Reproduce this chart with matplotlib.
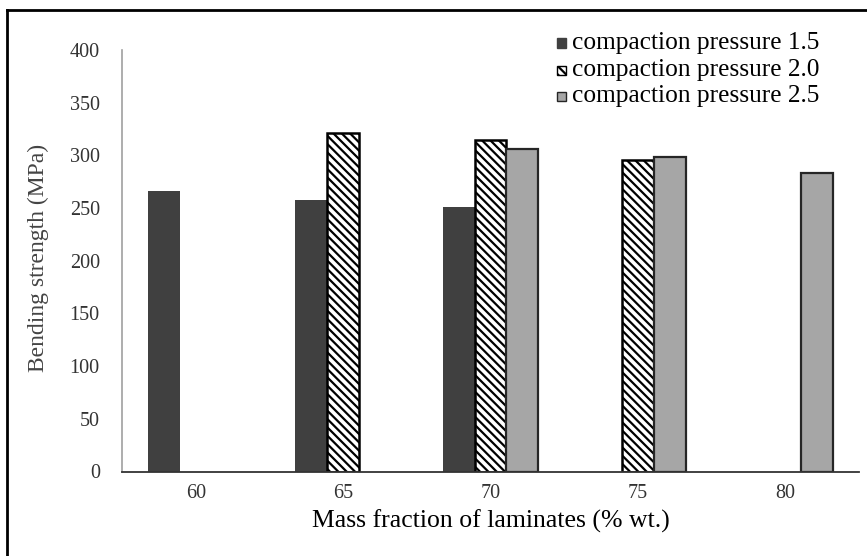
import matplotlib
matplotlib.use("Agg")
import matplotlib.pyplot as plt
import numpy as np
from matplotlib.patches import Rectangle
from matplotlib.lines import Line2D

categories = ["60", "65", "70", "75", "80"]
series_names = ["compaction pressure 1.5",
                "compaction pressure 2.0",
                "compaction pressure 2.5"]
p15 = [266, 258, 251, 0, 0]
p20 = [0, 321, 315, 296, 0]
p25 = [0, 0, 306, 298, 283]
yticks = [0, 50, 100, 150, 200, 250, 300, 350, 400]

W, H = 867, 556
plt.rcParams['font.family'] = ['Liberation Serif', 'DejaVu Serif']
plt.rcParams['hatch.linewidth'] = 1.6

fig = plt.figure(figsize=(W / 100, H / 100), dpi=100)
ax = fig.add_axes([122 / W, 1 - 471.5 / H, (859 - 122) / W, (471.5 - 50) / H])

x = np.arange(len(categories))
bw = 0.217
styles = [dict(color="#404040", edgecolor="none", hatch=None),
          dict(color="white", edgecolor="black", hatch="\\\\\\\\", linewidth=1.8),
          dict(color="#a6a6a6", edgecolor="#262626", hatch=None, linewidth=1.6)]
for i, vals in enumerate([p15, p20, p25]):
    v = np.array(vals, dtype=float)
    m = v > 0
    st = styles[i]
    ax.bar(x[m] + (i - 1) * bw, v[m], bw, color=st["color"], edgecolor=st["edgecolor"],
           hatch=st["hatch"], linewidth=st.get("linewidth", 0))

ax.set_xlim(-0.5, len(categories) - 0.5)
ax.set_ylim(0, 400)
ax.set_xticks(x)
ax.set_xticklabels(categories, fontsize=14.5, color="#333333")
ax.set_yticks(yticks)
ax.set_yticklabels([str(t) for t in yticks], fontsize=14.5, color="#333333")
ax.tick_params(axis="both", length=0)
ax.tick_params(axis="y", pad=16)
ax.tick_params(axis="x", pad=9)
for s in ["top", "right"]:
    ax.spines[s].set_visible(False)
ax.spines["left"].set_color("#a0a0a0")
ax.spines["left"].set_linewidth(1.2)
ax.spines["bottom"].set_color("#333333")
ax.spines["bottom"].set_linewidth(1.3)

ax.set_xlabel("Mass fraction of laminates (% wt.)", fontsize=18.5, labelpad=5)
fig.text(38 / W, 1 - 258 / H, "Bending strength (MPa)", rotation=90, fontsize=17,
         ha="center", va="center", color="#444444")

# legend drawn by hand at the top right
rows_y = [43, 70, 96]
for i, name in enumerate(series_names):
    yc = H - rows_y[i]
    st = styles[i]
    ec = st["edgecolor"] if st["edgecolor"] != "none" else st["color"]
    fig.patches.append(Rectangle((557 / W, (yc - 4.5) / H), 9 / W, 9 / H,
                                 transform=fig.transFigure, facecolor=st["color"],
                                 edgecolor=ec, hatch=st["hatch"], linewidth=1))
    fig.text(572 / W, yc / H, name, fontsize=18.3, va="center", ha="left")

# outer frame (left and top edges visible)
fig.add_artist(Line2D([7 / W, 7 / W], [0, 1 - 10 / H], transform=fig.transFigure,
                      color="black", linewidth=2))
fig.add_artist(Line2D([7 / W, 1], [1 - 10 / H, 1 - 10 / H], transform=fig.transFigure,
                      color="black", linewidth=2))

fig.savefig("out.png", dpi=100)
